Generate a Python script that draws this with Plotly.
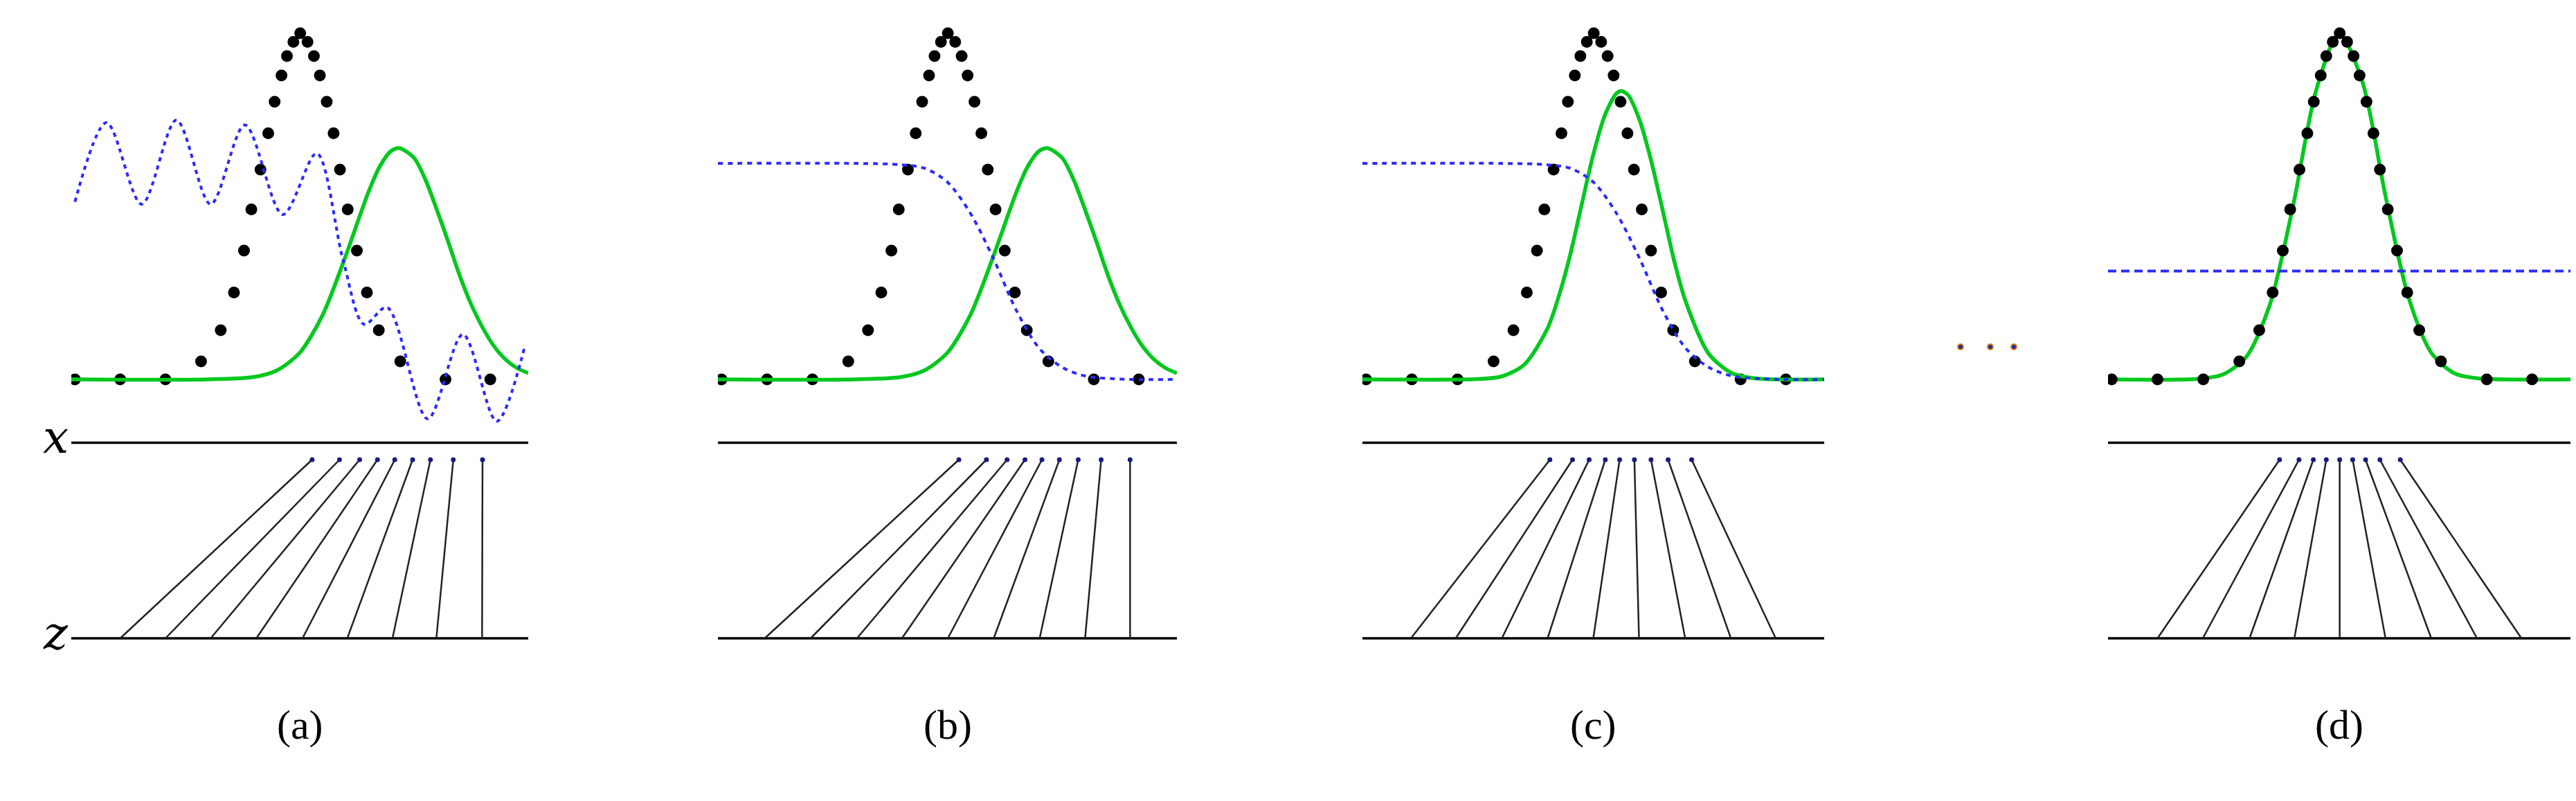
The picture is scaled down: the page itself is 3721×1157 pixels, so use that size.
import plotly.graph_objects as go

# data samples p_data (black dots), same in every panel
dot_x = [0.008, 0.107, 0.206, 0.284, 0.327, 0.356, 0.378, 0.394, 0.414, 0.431, 0.445, 0.460,
         0.472, 0.486, 0.501, 0.517, 0.531, 0.544, 0.559, 0.574, 0.588, 0.605, 0.625, 0.647,
         0.673, 0.720, 0.819, 0.917]
dot_y = [0, 0, 0, 0.052, 0.142, 0.251, 0.372, 0.491, 0.606, 0.711, 0.802, 0.878, 0.934,
         0.975, 1.0, 0.975, 0.934, 0.878, 0.802, 0.711, 0.606, 0.491, 0.372, 0.251, 0.142,
         0.052, 0, 0]

# generator distribution p_g (green)
green_ab_x = [0, 0.3, 0.4, 0.45, 0.5, 0.55, 0.6, 0.65, 0.675, 0.7, 0.718, 0.75, 0.775, 0.8,
              0.825, 0.85, 0.875, 0.9, 0.925, 0.95, 0.975, 1.0]
green_ab_y = [0, 0.0, 0.007, 0.026, 0.077, 0.186, 0.355, 0.54, 0.615, 0.66, 0.668, 0.64, 0.577,
              0.49, 0.397, 0.30, 0.217, 0.15, 0.096, 0.058, 0.033, 0.018]
green_c_x = [0, 0.25, 0.3, 0.35, 0.4, 0.425, 0.45, 0.475, 0.5, 0.525, 0.55, 0.561, 0.575, 0.6,
             0.625, 0.65, 0.675, 0.7, 0.75, 0.8, 0.85, 1.0]
green_c_y = [0, 0.001, 0.008, 0.042, 0.145, 0.239, 0.36, 0.506, 0.65, 0.763, 0.826, 0.833, 0.822,
             0.75, 0.633, 0.49, 0.343, 0.225, 0.074, 0.018, 0.003, 0]
green_d_x = [0, 0.2, 0.25, 0.3, 0.35, 0.4, 0.45, 0.5, 0.55, 0.6, 0.65, 0.7, 0.75, 0.8, 1.0]
green_d_y = [0, 0.002, 0.015, 0.067, 0.216, 0.50, 0.835, 1.0, 0.86, 0.53, 0.236, 0.075, 0.017, 0.003, 0]

# discriminator (blue dashed)
blue_a_x = [0.008, 0.077, 0.154, 0.230, 0.305, 0.380, 0.463, 0.537, 0.595, 0.641, 0.691, 0.780, 0.857, 0.931, 0.992]
blue_a_y = [0.513, 0.742, 0.506, 0.749, 0.506, 0.735, 0.476, 0.653, 0.344, 0.159, 0.208, -0.114, 0.130, -0.121, 0.093]
blue_bc_x = [0, 0.3, 0.4, 0.45, 0.5, 0.55, 0.6, 0.65, 0.7, 0.75, 0.8, 0.9, 1.0]
blue_bc_y = [0.624, 0.624, 0.62, 0.61, 0.57, 0.48, 0.35, 0.2, 0.09, 0.035, 0.01, 0, 0]
blue_d_x = [0, 1.0]
blue_d_y = [0.313, 0.313]

# mapping z -> x (arrows)
z_pos = {
    "a": [0.107, 0.206, 0.305, 0.405, 0.506, 0.604, 0.703, 0.799, 0.899],
    "b": [0.102, 0.202, 0.303, 0.401, 0.501, 0.601, 0.701, 0.800, 0.898],
    "c": [0.105, 0.202, 0.302, 0.401, 0.500, 0.599, 0.699, 0.798, 0.895],
    "d": [0.107, 0.205, 0.306, 0.403, 0.501, 0.600, 0.699, 0.798, 0.894],
}
x_pos = {
    "a": [0.527, 0.587, 0.631, 0.670, 0.708, 0.747, 0.786, 0.836, 0.900],
    "b": [0.525, 0.585, 0.630, 0.669, 0.706, 0.744, 0.785, 0.835, 0.898],
    "c": [0.406, 0.455, 0.491, 0.526, 0.557, 0.589, 0.625, 0.662, 0.713],
    "d": [0.371, 0.413, 0.444, 0.472, 0.501, 0.529, 0.557, 0.588, 0.632],
}
labels = ["(a)", "(b)", "(c)", "(d)"]
ellipsis_x = [2824, 2867, 2901]
ellipsis_y = [0.094, 0.094, 0.094]

panel_px = [(95, 755), (1029, 1692), (1960, 2627), (3037, 3705)]
W, H = 3721, 1157
Y_XLINE, Y_ZLINE, Y_HEAD = -0.183, -0.748, -0.232

fig = go.Figure()
greens = [(green_ab_x, green_ab_y), (green_ab_x, green_ab_y), (green_c_x, green_c_y), (green_d_x, green_d_y)]
blues = [(blue_a_x, blue_a_y, "6px,6px"), (blue_bc_x, blue_bc_y, "7px,7px"), (blue_bc_x, blue_bc_y, "7px,7px"),
         (blue_d_x, blue_d_y, "12px,7px")]

for i, key in enumerate("abcd"):
    xa = "x" if i == 0 else "x%d" % (i + 1)
    bx, by, bdash = blues[i]
    gx, gy = greens[i]
    # x and z lines
    fig.add_trace(go.Scatter(x=[0, 1, None, 0, 1], y=[Y_XLINE, Y_XLINE, None, Y_ZLINE, Y_ZLINE],
                             mode="lines", line=dict(color="black", width=3.5), xaxis=xa, yaxis="y"))
    # arrows
    ax, ay = [], []
    for z0, x1 in zip(z_pos[key], x_pos[key]):
        ax += [z0, x1, None]
        ay += [Y_ZLINE, Y_HEAD, None]
    fig.add_trace(go.Scatter(x=ax, y=ay, mode="lines", line=dict(color="#222", width=2.5),
                             xaxis=xa, yaxis="y"))
    fig.add_trace(go.Scatter(x=x_pos[key], y=[Y_HEAD] * 9, mode="markers",
                             marker=dict(color="#1a1a80", size=7), xaxis=xa, yaxis="y"))
    if i < 3:
        fig.add_trace(go.Scatter(x=dot_x, y=dot_y, mode="markers",
                                 marker=dict(color="black", size=17), xaxis=xa, yaxis="y"))
    fig.add_trace(go.Scatter(x=gx, y=gy, mode="lines",
                             line=dict(color="#00c81e", width=5.5, shape="spline", smoothing=0.8),
                             xaxis=xa, yaxis="y"))
    fig.add_trace(go.Scatter(x=bx, y=by, mode="lines",
                             line=dict(color="#2a2aff", width=4, dash=bdash, shape="spline", smoothing=0.9),
                             xaxis=xa, yaxis="y"))
    if i == 3:
        fig.add_trace(go.Scatter(x=dot_x, y=dot_y, mode="markers",
                                 marker=dict(color="black", size=17), xaxis=xa, yaxis="y"))
    x0, x1 = panel_px[i]
    fig.update_layout(**{("xaxis" if i == 0 else "xaxis%d" % (i + 1)): dict(
        domain=[x0 / W, x1 / W], range=[0, 1], visible=False, anchor="y")})
    fig.add_annotation(x=0.5, y=-0.998, xref=xa, yref="y", text=labels[i], showarrow=False,
                       font=dict(family="Liberation Serif", size=60, color="black"))

# ellipsis between (c) and (d)
fig.add_trace(go.Scatter(x=ellipsis_x, y=ellipsis_y, mode="markers",
                         marker=dict(color="#2a2a90", size=8, line=dict(color="#e08020", width=2)),
                         xaxis="x5", yaxis="y"))
fig.update_layout(xaxis5=dict(domain=[2760 / W, 2960 / W], range=[2760, 2960], visible=False, anchor="y"))

for txt, yv in (("<i>x</i>", Y_XLINE), ("<i>z</i>", Y_ZLINE)):
    fig.add_annotation(x=0, y=yv, xref="x", yref="y", xanchor="right", text=txt, showarrow=False,
                       font=dict(family="DejaVu Serif", size=66, color="black"), xshift=-2, yshift=8)

fig.update_layout(
    width=W, height=H, showlegend=False, plot_bgcolor="white", paper_bgcolor="white",
    margin=dict(l=0, r=0, t=0, b=0),
    yaxis=dict(domain=[0, 1], range=[-1.234, 1.08], visible=False),
)

fig.write_html("out.html")
